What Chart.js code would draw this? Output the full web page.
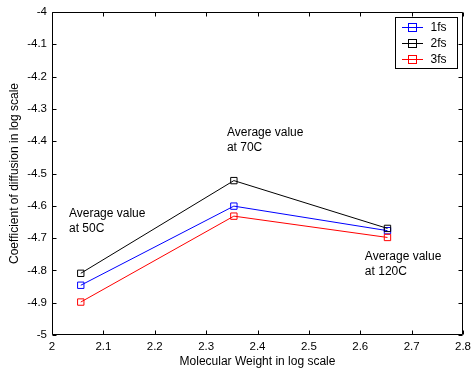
<!DOCTYPE html>
<html><head><meta charset="utf-8">
<script src="https://cdn.jsdelivr.net/npm/chart.js@4/dist/chart.umd.min.js"></script>
<style>html,body{margin:0;padding:0;background:#fff;} canvas{display:block}</style>
</head><body>
<div style="width:472px;height:371px"><canvas id="c" width="472" height="371"></canvas></div>
<script>
const seriesNames = ['1fs', '2fs', '3fs'];
const xValues = [2.056, 2.354, 2.653];
const series1fs = [-4.846, -4.601, -4.677];
const series2fs = [-4.809, -4.522, -4.670];
const series3fs = [-4.898, -4.632, -4.698];
const seriesColors = ['#0000ff', '#000000', '#ff0000'];
const xTickLabels = ['2', '2.1', '2.2', '2.3', '2.4', '2.5', '2.6', '2.7', '2.8'];
const yTickLabels = ['-5', '-4.9', '-4.8', '-4.7', '-4.6', '-4.5', '-4.4', '-4.3', '-4.2', '-4.1', '-4'];
const annotationTexts = [['Average value', 'at 50C'], ['Average value', 'at 70C'], ['Average value', 'at 120C']];
const annotationX = [2.033, 2.3405, 2.609];
const annotationY = [-4.625, -4.375, -4.759];
const xTitle = 'Molecular Weight in log scale';
const yTitle = 'Coefficient of diffusion in log scale';

const FONT = "'Liberation Sans', Arial, sans-serif";
Chart.defaults.color = '#000';
Chart.defaults.font.family = FONT;
Chart.defaults.font.size = 11.5;

const allSeries = [series1fs, series2fs, series3fs];
const datasets = allSeries.map((s, i) => ({
  label: seriesNames[i],
  data: s.map((v, j) => ({ x: xValues[j], y: v })),
  borderColor: seriesColors[i],
  backgroundColor: 'rgba(0,0,0,0)',
  pointBorderColor: seriesColors[i],
  pointBackgroundColor: 'rgba(0,0,0,0)',
  pointStyle: 'rect',
  pointRadius: 4.5,
  pointBorderWidth: 1,
  borderWidth: 1,
  showLine: true,
  tension: 0,
  order: allSeries.length - i
}));

const framePlugin = {
  id: 'frame',
  afterDatasetsDraw(chart) {
    const { ctx, chartArea: a, scales } = chart;
    ctx.save();
    ctx.strokeStyle = '#000';
    ctx.lineWidth = 1;
    const L = Math.round(a.left) + 0.5, R = Math.round(a.right) - 0.5;
    const T = Math.round(a.top) + 0.5, B = Math.round(a.bottom) - 0.5;
    ctx.beginPath();
    ctx.rect(L, T, R - L, B - T);
    const tl = 4;
    scales.x.ticks.forEach(t => {
      const px = Math.round(scales.x.getPixelForValue(t.value)) + 0.5;
      ctx.moveTo(px, B); ctx.lineTo(px, B - tl);
      ctx.moveTo(px, T); ctx.lineTo(px, T + tl);
    });
    scales.y.ticks.forEach(t => {
      const py = Math.round(scales.y.getPixelForValue(t.value)) + 0.5;
      ctx.moveTo(L, py); ctx.lineTo(L + tl, py);
      ctx.moveTo(R, py); ctx.lineTo(R - tl, py);
    });
    ctx.stroke();

    // annotations
    ctx.fillStyle = '#000';
    ctx.font = '12px ' + FONT;
    ctx.textAlign = 'left';
    ctx.textBaseline = 'middle';
    annotationTexts.forEach((lines, i) => {
      const px = scales.x.getPixelForValue(annotationX[i]);
      const py = scales.y.getPixelForValue(annotationY[i]);
      lines.forEach((ln, k) => ctx.fillText(ln, px, py + k * 15));
    });

    // legend
    const bw = 62, bh = 51;
    const bx = Math.round(a.right) - 6 - bw + 0.5, by = Math.round(a.top) + 5 + 0.5;
    ctx.fillStyle = '#fff';
    ctx.fillRect(bx, by, bw, bh);
    ctx.strokeStyle = '#000';
    ctx.strokeRect(bx, by, bw, bh);
    seriesNames.forEach((n, i) => {
      const cy = Math.round(by + 9.5 + i * 15.8);
      ctx.fillStyle = seriesColors[i];
      ctx.fillRect(Math.round(bx + 6), cy, 21, 1);
      ctx.strokeStyle = seriesColors[i];
      ctx.strokeRect(Math.round(bx + 12) + 0.5, cy - 4 + 0.5, 8, 8);
      ctx.fillStyle = '#000';
      ctx.font = '12px ' + FONT;
      ctx.fillText(n, bx + 35, cy + 1);
    });
    ctx.restore();
  }
};

const bgPlugin = {
  id: 'bg',
  beforeDraw(chart) {
    const c = chart.ctx; c.save(); c.fillStyle = '#fff'; c.fillRect(0, 0, chart.width, chart.height); c.restore();
  }
};

new Chart(document.getElementById('c'), {
  type: 'scatter',
  data: { datasets },
  options: {
    responsive: false,
    animation: false,
    devicePixelRatio: 1,
    layout: { padding: { top: 12, right: 9, left: 0, bottom: 0 } },
    plugins: { legend: { display: false }, tooltip: { enabled: false } },
    scales: {
      x: {
        type: 'linear', position: 'bottom', min: 2, max: 2.8,
        grid: { display: false, drawTicks: false }, border: { display: false },
        ticks: { stepSize: 0.1, padding: 5, maxRotation: 0, autoSkip: false, callback: (v, i) => xTickLabels[i] },
        title: { display: true, text: xTitle, padding: { top: 0, bottom: 2 }, font: { size: 12 } },
        afterFit: s => { s.height = 36; s.paddingLeft = 0; s.paddingRight = 0; }
      },
      y: {
        type: 'linear', position: 'left', min: -5, max: -4,
        grid: { display: false, drawTicks: false }, border: { display: false },
        ticks: { stepSize: 0.1, padding: 5, autoSkip: false, callback: (v, i) => yTickLabels[i] },
        title: { display: true, text: yTitle, padding: { top: 7, bottom: 0 }, font: { size: 12 } },
        afterFit: s => { s.width = 52; s.paddingTop = 0; s.paddingBottom = 0; }
      }
    }
  },
  plugins: [bgPlugin, framePlugin]
});
</script>
</body></html>
